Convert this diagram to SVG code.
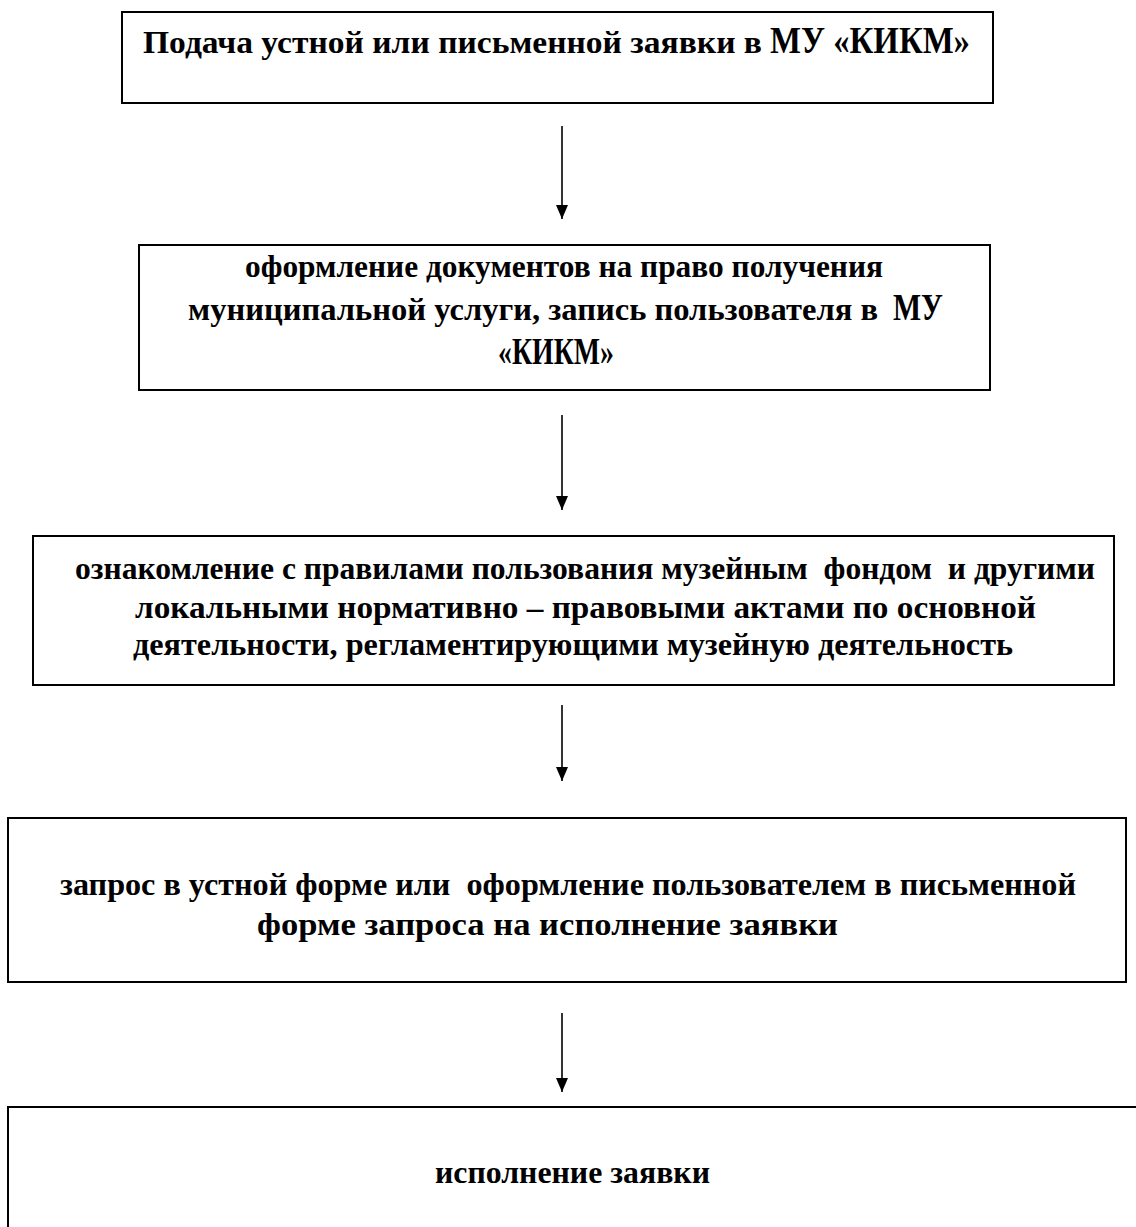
<svg xmlns="http://www.w3.org/2000/svg" width="1136" height="1227" viewBox="0 0 1136 1227">
<defs>
<style>
.box{fill:#fff;stroke:#000;stroke-width:2}
.t{font-family:"Liberation Serif","Times New Roman",serif;font-weight:bold;font-size:31px;fill:#000;white-space:pre}
.b{font-size:38px}
.c{stroke:#000;stroke-width:1.6;fill:none}
</style>
<marker id="ah" viewBox="0 0 14 12" refX="14" refY="6" markerWidth="14" markerHeight="12" markerUnits="userSpaceOnUse" orient="auto">
<path d="M0,0 L14,6 L0,12 Z" fill="#000"/>
</marker>
</defs>
<rect width="1136" height="1227" fill="#fff"/>
<g id="node1">
<rect class="box" x="122" y="12" width="871" height="91"/>
<text class="t" x="143" y="53" textLength="619" lengthAdjust="spacingAndGlyphs">Подача устной или письменной заявки в</text>
<text class="t b" x="770" y="53" textLength="200" lengthAdjust="spacingAndGlyphs">МУ «КИКМ»</text>
</g>
<g id="node2">
<rect class="box" x="139" y="245" width="851" height="145"/>
<text class="t" x="245" y="277" textLength="638" lengthAdjust="spacingAndGlyphs">оформление документов на право получения</text>
<text class="t" x="188" y="320" textLength="690" lengthAdjust="spacingAndGlyphs">муниципальной услуги, запись пользователя в</text>
<text class="t b" x="893" y="320" textLength="50" lengthAdjust="spacingAndGlyphs">МУ</text>
<text class="t b" x="498" y="364" textLength="116" lengthAdjust="spacingAndGlyphs">«КИКМ»</text>
</g>
<g id="node3">
<rect class="box" x="33" y="536" width="1081" height="149"/>
<text class="t" x="75" y="579" textLength="1020" lengthAdjust="spacingAndGlyphs">ознакомление с правилами пользования музейным  фондом  и другими</text>
<text class="t" x="135" y="618" textLength="901" lengthAdjust="spacingAndGlyphs">локальными нормативно – правовыми актами по основной</text>
<text class="t" x="133" y="655" textLength="880" lengthAdjust="spacingAndGlyphs">деятельности, регламентирующими музейную деятельность</text>
</g>
<g id="node4">
<rect class="box" x="8" y="818" width="1118" height="164"/>
<text class="t" x="60" y="895" textLength="1016" lengthAdjust="spacingAndGlyphs">запрос в устной форме или  оформление пользователем в письменной</text>
<text class="t" x="257" y="935" textLength="581" lengthAdjust="spacingAndGlyphs">форме запроса на исполнение заявки</text>
</g>
<g id="node5">
<rect class="box" x="8" y="1107" width="1140" height="140"/>
<text class="t" x="435" y="1183" textLength="275" lengthAdjust="spacingAndGlyphs">исполнение заявки</text>
</g>
<g id="connectors">
<line class="c" x1="562" y1="126" x2="562" y2="219" marker-end="url(#ah)"/>
<line class="c" x1="562" y1="415" x2="562" y2="510" marker-end="url(#ah)"/>
<line class="c" x1="562" y1="705" x2="562" y2="781" marker-end="url(#ah)"/>
<line class="c" x1="562" y1="1013" x2="562" y2="1092" marker-end="url(#ah)"/>
</g>
</svg>
